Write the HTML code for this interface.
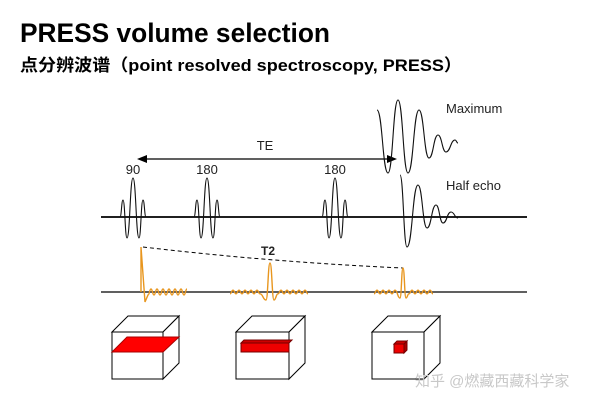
<!DOCTYPE html>
<html><head><meta charset="utf-8"><style>
html,body{margin:0;padding:0;background:#fff;width:600px;height:405px;overflow:hidden}
svg{display:block}
</style></head><body>
<svg id="s" width="600" height="405" viewBox="0 0 600 405" xmlns="http://www.w3.org/2000/svg">
<text x="20" y="42" font-family="Liberation Sans, sans-serif" font-weight="bold" font-size="27" textLength="310" lengthAdjust="spacingAndGlyphs" fill="#000">PRESS volume selection</text>
<text x="20" y="71" font-family="Liberation Sans, Noto Sans CJK SC, sans-serif" font-weight="bold" font-size="17" textLength="442" lengthAdjust="spacingAndGlyphs" fill="#000">点分辨波谱（point resolved spectroscopy, PRESS）</text>

<g font-family="Liberation Sans, sans-serif" font-size="13" fill="#222">
<text x="133" y="174" text-anchor="middle">90</text>
<text x="207" y="174" text-anchor="middle">180</text>
<text x="335" y="174" text-anchor="middle">180</text>
<text x="265" y="150" text-anchor="middle">TE</text>
<text x="446" y="113">Maximum</text>
<text x="446" y="190">Half echo</text>
<text x="268" y="255" text-anchor="middle" font-size="12" font-weight="bold">T2</text>
</g>
<line x1="101" y1="217" x2="527" y2="217" stroke="#000" stroke-width="1.8"/>
<line x1="101" y1="292" x2="527" y2="292" stroke="#000" stroke-width="1.3"/>
<line x1="146" y1="159" x2="388" y2="159" stroke="#000" stroke-width="1.3"/>
<polygon points="137,159 147,155 147,163" fill="#000"/>
<polygon points="397,159 387,155 387,163" fill="#000"/>
<path d="M143,247 Q270,262 403,268" fill="none" stroke="#000" stroke-width="1" stroke-dasharray="4,3"/>
<g id="w" fill="none" stroke="#111" stroke-width="1.1"></g>
<g id="o" fill="none" stroke="#e8961e" stroke-width="1.4"></g>

<g stroke="#000" stroke-width="1" fill="#fff">
<polygon points="112,332 128,316 179,316 163,332"/>
<polygon points="163,332 179,316 179,363 163,379"/>
<rect x="112" y="332" width="51" height="47"/>
<polygon points="112,352 127,337 179,337 163,352" fill="#f00" stroke="#a00"/>
<polygon points="236,332 252,316 305,316 289,332"/>
<polygon points="289,332 305,316 305,363 289,379"/>
<rect x="236" y="332" width="53" height="47"/>
<rect x="241" y="343" width="48" height="9" fill="#e00" stroke="#700"/>
<polygon points="241,343 244,340 292,340 289,343" fill="#c00" stroke="#700"/>
<polygon points="372,332 388,316 440,316 424,332"/>
<polygon points="424,332 440,316 440,363 424,379"/>
<rect x="372" y="332" width="52" height="47"/>
<rect x="394" y="344" width="10" height="9" fill="#e00" stroke="#700"/>
<polygon points="394,344 397,341 407,341 404,344" fill="#c00" stroke="#700"/>
<polygon points="404,344 407,341 407,350 404,353" fill="#a00" stroke="#700"/>
</g>
<text x="415" y="386" font-family="Liberation Sans, Noto Sans CJK SC, sans-serif" font-size="15" fill="#c8c8c8">知乎 @燃藏西藏科学家</text>
</svg>
<script>
function wave(p){var d="M"+p[0][0]+","+p[0][1];for(var i=1;i<p.length;i++){var a=p[i-1],b=p[i],m=(a[0]+b[0])/2;d+=" C"+m+","+a[1]+" "+m+","+b[1]+" "+b[0]+","+b[1];}return d;}
var w=document.getElementById("w"),o=document.getElementById("o"),ns="http://www.w3.org/2000/svg";
function add(g,d){var e=document.createElementNS(ns,"path");e.setAttribute("d",d);g.appendChild(e);}
[133,207,335].forEach(function(c){add(w,wave([[c-13,217],[c-10,200],[c-6,238],[c,178],[c+6,238],[c+10,200],[c+13,217]]));});
add(w,wave([[377,110],[388,173],[398,100],[408,173],[419,110],[429,158],[438,135],[446,152],[455,140],[458,143]]));
add(w,wave([[400,175],[407,247],[418,185],[427,228],[436,205],[443,223],[451,212],[458,218]]));
function ring(x0,x1,amp){var p=[],s=1;for(var x=x0;x<=x1;x+=3){p.push([x,292+s*amp]);s=-s;}return p;}
add(o,"M141,292 L141,247 L145,302 "+wave(ring(148,187,3)).replace("M","L"));
add(o,wave(ring(230,262,1.8).concat([[266,300],[270,263],[274,300]],ring(278,310,1.8))));
add(o,wave(ring(374,397,1.8).concat([[400,298],[403,268],[406,298]],ring(409,433,1.8))));
</script>
</body></html>
